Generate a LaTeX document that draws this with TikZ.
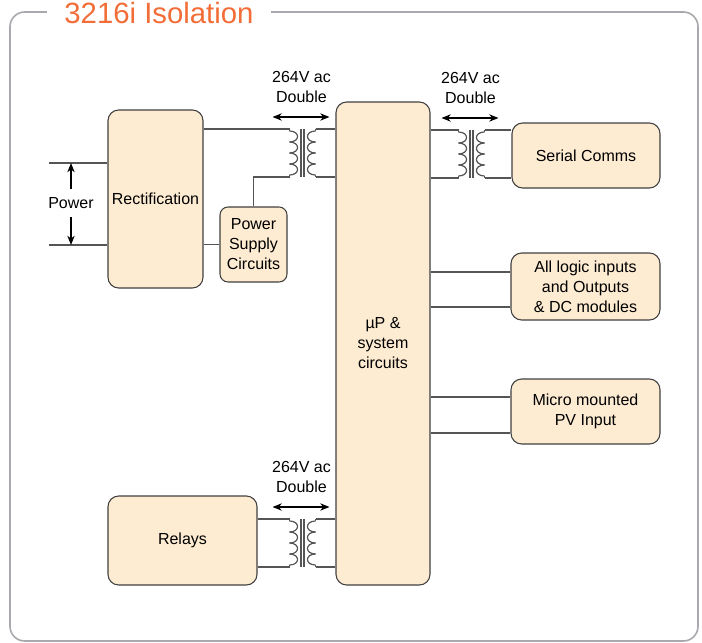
\documentclass[tikz,border=0pt]{standalone}
\usepackage{fontspec}
\setmainfont{Liberation Sans}
\usetikzlibrary{arrows.meta}
\definecolor{boxfill}{HTML}{FDEBD2}
\definecolor{boxline}{HTML}{404040}
\definecolor{wiregray}{HTML}{555555}
\definecolor{framegray}{HTML}{A8A9AD}
\definecolor{titleorange}{HTML}{F26D37}

\begin{document}
\begin{tikzpicture}[x=0.75pt,y=-0.75pt,
    blk/.style = {draw=boxline,fill=boxfill,line width=0.8pt,rounded corners=8pt,
                  align=center,inner sep=0pt,font=\fontsize{12}{15}\selectfont},
    wire/.style = {draw=wiregray,line width=0.9pt},
    dbl/.style = {line width=0.8pt,{Stealth[length=7pt,width=5.5pt]}-{Stealth[length=7pt,width=5.5pt]}},
    arrow/.style = {line width=0.8pt,-{Stealth[length=7pt,width=5.5pt]}},
    lbl/.style = {align=center,inner sep=0pt,font=\fontsize{12}{15}\selectfont}]
  \useasboundingbox (0,0) rectangle (702,642);

  % frame and title
  \node[font=\fontsize{22}{26}\selectfont,text=titleorange,inner xsep=13pt,
        inner ysep=0pt,anchor=base] (title) at (159,23.5) {3216i Isolation};
  \coordinate (ftop) at (0,12);
  \draw[framegray,line width=1.2pt,rounded corners=11pt]
    (title.west |- ftop) -- (10,12) -- (10,641) -- (698,641) -- (698,12) -- (title.east |- ftop);

  % blocks
  \node[blk,minimum width=71.25pt,minimum height=133.5pt] (rect) at (155.5,199) {Rectification};
  \node[blk,minimum width=50.25pt,minimum height=56.25pt,rounded corners=6pt] (psc) at (253.5,244.5)
    {Power\\Supply\\Circuits};
  \node[blk,minimum width=70.5pt,minimum height=362.25pt] (cpu) at (383,343.5) {µP \&\\system\\circuits};
  \node[blk,minimum width=111pt,minimum height=48.75pt] (serial) at (586,155.5) {Serial Comms};
  \node[blk,minimum width=111.75pt,minimum height=50.25pt] (logic) at (585.5,286.5)
    {All logic inputs\\and Outputs\\\& DC modules};
  \node[blk,minimum width=111.75pt,minimum height=48.75pt] (micro) at (585.5,411.5)
    {Micro mounted\\PV Input};
  \node[blk,minimum width=111.75pt,minimum height=66.75pt] (relays) at (182.5,540.5) {Relays};

  % isolating transformers (corners named ta-lt etc.)
  \foreach \nm/\cx/\yt in {ta/302.5/129,tb/471.5/130,tc/302.5/519}{
    \coordinate (\nm-lt) at ({\cx-13},\yt);
    \coordinate (\nm-lb) at ({\cx-13},{\yt+48});
    \coordinate (\nm-rt) at ({\cx+13},\yt);
    \coordinate (\nm-rb) at ({\cx+13},{\yt+48});
    \draw[wire] (\nm-lt) -- ++(0,2) (\nm-rt) -- ++(0,2)
                (\nm-lb) -- ++(0,-2) (\nm-rb) -- ++(0,-2);
    \foreach \k in {0,...,3}{
      \draw[wire] ({\cx-13},{\yt+2+11*\k}) .. controls ({\cx-2.3},{\yt+2+11*\k})
        and ({\cx-2.3},{\yt+13+11*\k}) .. ({\cx-13},{\yt+13+11*\k});
      \draw[wire] ({\cx+13},{\yt+2+11*\k}) .. controls ({\cx+2.3},{\yt+2+11*\k})
        and ({\cx+2.3},{\yt+13+11*\k}) .. ({\cx+13},{\yt+13+11*\k});
    }
    \draw[wire] ({\cx-1.5},\yt) -- ({\cx-1.5},{\yt+48})
                ({\cx+1.5},\yt) -- ({\cx+1.5},{\yt+48});
    \coordinate (\nm-al) at ({\cx-30},{\yt-12});
    \coordinate (\nm-ar) at ({\cx+27},{\yt-12});
    \draw[dbl] (\nm-al) -- (\nm-ar);
    \node[lbl] (\nm-txt) at ({\cx-1},{\yt-42}) {264V ac\\Double};
  }

  % power input
  \coordinate (pa) at (49,163);
  \coordinate (pb) at (49,245);
  \draw[wire] (pa) -- (pa -| rect.west);
  \draw[wire] (pb) -- (pb -| rect.west);
  \node[lbl] (pwr) at (71,203) {Power};
  \draw[arrow] ([yshift=6pt]pwr.north) -- (pa -| pwr.north);
  \draw[arrow] ([yshift=-6pt]pwr.south) -- (pb -| pwr.south);

  % wiring
  \draw[wire] (rect.east |- ta-lt) -- (ta-lt);
  \draw[wire] (ta-rt) -- (ta-rt -| cpu.west);
  \draw[wire] (ta-rb) -- (ta-rb -| cpu.west);
  \draw[wire] (ta-lb) -| (psc.north);
  \draw[wire] (psc.west) -- (psc.west -| rect.east);
  \draw[wire] (cpu.east |- tb-lt) -- (tb-lt);
  \draw[wire] (cpu.east |- tb-lb) -- (tb-lb);
  \draw[wire] (tb-rt) -- (tb-rt -| serial.west);
  \draw[wire] (tb-rb) -- (tb-rb -| serial.west);
  \draw[wire] (relays.east |- tc-lt) -- (tc-lt);
  \draw[wire] (relays.east |- tc-lb) -- (tc-lb);
  \draw[wire] (tc-rt) -- (tc-rt -| cpu.west);
  \draw[wire] (tc-rb) -- (tc-rb -| cpu.west);
  \foreach \nm/\y in {la/272,lb/307,ma/397,mb/433}
    \coordinate (\nm) at (0,\y);
  \draw[wire] (cpu.east |- la) -- (logic.west |- la);
  \draw[wire] (cpu.east |- lb) -- (logic.west |- lb);
  \draw[wire] (cpu.east |- ma) -- (micro.west |- ma);
  \draw[wire] (cpu.east |- mb) -- (micro.west |- mb);
\end{tikzpicture}
\end{document}
